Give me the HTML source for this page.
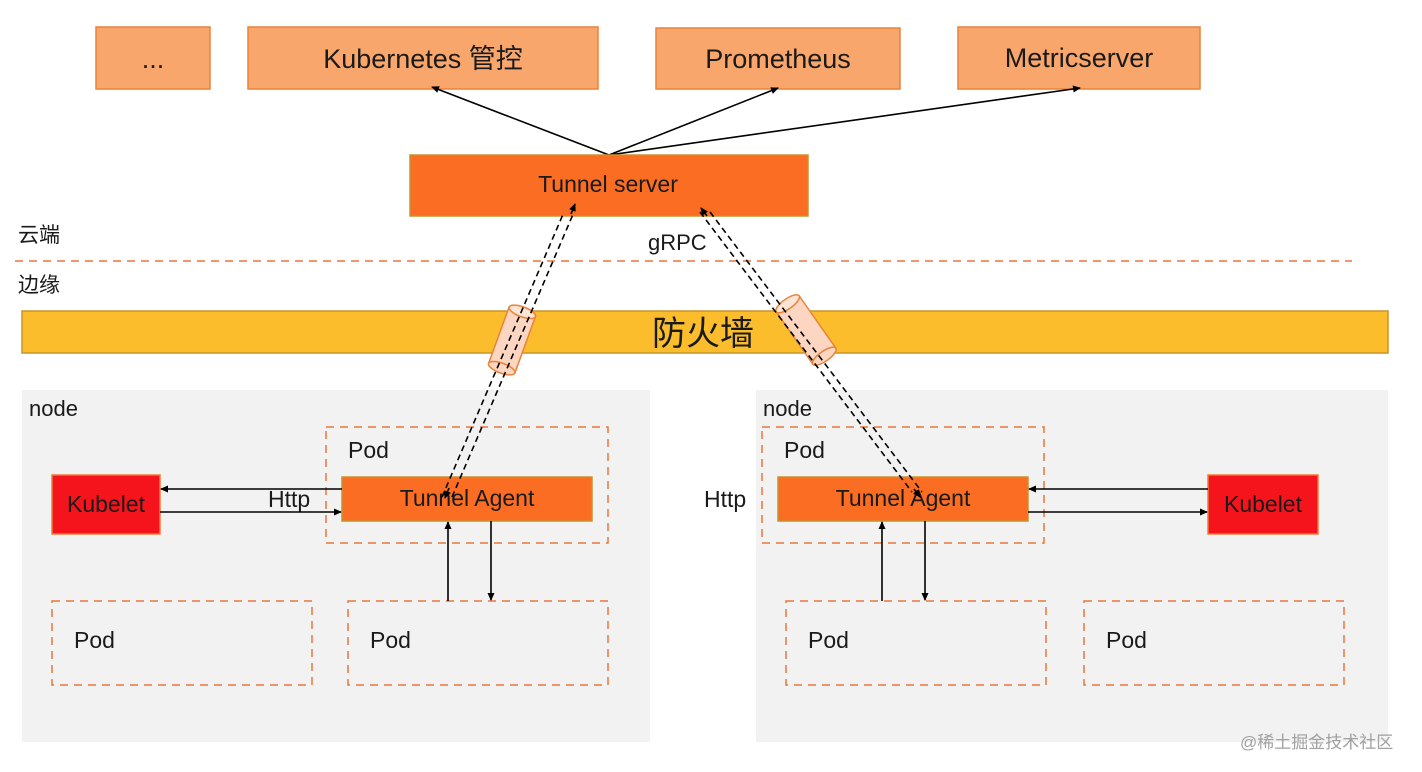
<!DOCTYPE html>
<html><head><meta charset="utf-8"><style>
html,body{margin:0;padding:0;background:#fff;}
svg{display:block;}
text{font-family:"Liberation Sans","Noto Sans CJK SC",sans-serif;fill:#1a1a1a;}
</style></head><body>
<svg width="1422" height="772" viewBox="0 0 1422 772" xmlns="http://www.w3.org/2000/svg">
<defs>
<marker id="ah" markerWidth="8" markerHeight="8" refX="7" refY="4" orient="auto" markerUnits="userSpaceOnUse"><path d="M0,0.5 L8,4 L0,7.5 z" fill="#000"/></marker>
</defs>
<g fill="#f9a66c" stroke="#e8833a" stroke-width="1.5">
<rect x="96" y="27" width="114" height="62"/>
<rect x="248" y="27" width="350" height="62"/>
<rect x="656" y="28" width="244" height="61"/>
<rect x="958" y="27" width="242" height="62"/>
</g>
<g font-size="27" text-anchor="middle">
<text x="153" y="68">...</text>
<text x="423" y="68">Kubernetes 管控</text>
<text x="778" y="68">Prometheus</text>
<text x="1079" y="67">Metricserver</text>
</g>
<g stroke="#000" stroke-width="1.6" marker-end="url(#ah)">
<line x1="609" y1="155" x2="432" y2="87"/>
<line x1="609" y1="155" x2="778" y2="88"/>
<line x1="609" y1="155" x2="1080" y2="88"/>
</g>
<rect x="410" y="155" width="398" height="61" fill="#fa6d22" stroke="#c8922e" stroke-width="1.5"/>
<text x="608" y="192" font-size="23" text-anchor="middle">Tunnel server</text>
<text x="18" y="242" font-size="21">云端</text>
<text x="18" y="292" font-size="21">边缘</text>
<text x="648" y="250" font-size="22">gRPC</text>
<line x1="15" y1="261" x2="1352" y2="261" stroke="#e8773a" stroke-width="1.5" stroke-dasharray="8,6"/>
<rect x="22" y="311" width="1366" height="42" fill="#fbbd2c" stroke="#c9932a" stroke-width="1.5"/>
<text x="703" y="345" font-size="34" text-anchor="middle">防火墙</text>
<rect x="22" y="390" width="628" height="352" fill="#f2f2f2"/>
<rect x="756" y="390" width="632" height="352" fill="#f2f2f2"/>
<text x="29" y="416" font-size="22">node</text>
<text x="763" y="416" font-size="22">node</text>
<g fill="none" stroke="#e8773a" stroke-width="1.5" stroke-dasharray="8,6">
<rect x="326" y="427" width="282" height="116"/>
<rect x="762" y="427" width="282" height="116"/>
<rect x="52" y="601" width="260" height="84"/>
<rect x="348" y="601" width="260" height="84"/>
<rect x="786" y="601" width="260" height="84"/>
<rect x="1084" y="601" width="260" height="84"/>
</g>
<g font-size="23">
<text x="348" y="458">Pod</text>
<text x="784" y="458">Pod</text>
<text x="74" y="648">Pod</text>
<text x="370" y="648">Pod</text>
<text x="808" y="648">Pod</text>
<text x="1106" y="648">Pod</text>
<text x="268" y="507">Http</text>
<text x="704" y="507">Http</text>
</g>
<g fill="#fa6d22" stroke="#c8922e" stroke-width="1.5">
<rect x="342" y="477" width="250" height="44"/>
<rect x="778" y="477" width="250" height="44"/>
</g>
<g fill="#f5141c" stroke="#ef7a3a" stroke-width="1.5">
<rect x="52" y="475" width="108" height="59"/>
<rect x="1208" y="475" width="110" height="59"/>
</g>
<g font-size="23" text-anchor="middle">
<text x="467" y="506">Tunnel Agent</text>
<text x="903" y="506">Tunnel Agent</text>
<text x="106" y="512">Kubelet</text>
<text x="1263" y="512">Kubelet</text>
</g>
<g stroke="#000" stroke-width="1.6" marker-end="url(#ah)">
<line x1="342" y1="489" x2="161" y2="489"/>
<line x1="160" y1="512" x2="341" y2="512"/>
<line x1="448" y1="601" x2="448" y2="522"/>
<line x1="491" y1="521" x2="491" y2="600"/>
<line x1="1208" y1="489" x2="1029" y2="489"/>
<line x1="1028" y1="512" x2="1207" y2="512"/>
<line x1="882" y1="601" x2="882" y2="522"/>
<line x1="925" y1="521" x2="925" y2="600"/>
</g>
<!-- cylinders -->
<g transform="translate(512,340) rotate(20)">
<rect x="-14" y="-30" width="28" height="60" fill="#fcd6c0" stroke="#e8843a" stroke-width="1.5"/>
<ellipse cx="0" cy="30" rx="14" ry="5" fill="#fcd6c0" stroke="#e8843a" stroke-width="1.5"/>
<ellipse cx="0" cy="-30" rx="14" ry="5" fill="#fde4d4" stroke="#e8843a" stroke-width="1.5"/>
</g>
<g transform="translate(806,330) rotate(-35)">
<rect x="-14" y="-32" width="28" height="64" fill="#fcd6c0" stroke="#e8843a" stroke-width="1.5"/>
<ellipse cx="0" cy="32" rx="14" ry="5" fill="#fcd6c0" stroke="#e8843a" stroke-width="1.5"/>
<ellipse cx="0" cy="-32" rx="14" ry="5" fill="#fde4d4" stroke="#e8843a" stroke-width="1.5"/>
</g>
<!-- tunnels -->
<g stroke="#000" stroke-width="1.6" stroke-dasharray="6,4" fill="none">
<line x1="442" y1="497" x2="564" y2="212"/>
<line x1="452" y1="497" x2="574" y2="212"/>
<line x1="700" y1="212" x2="912" y2="492"/>
<line x1="710" y1="212" x2="922" y2="492"/>
</g>
<g stroke="#000" stroke-width="1.6">
<line x1="571" y1="214" x2="575" y2="204" marker-end="url(#ah)"/>
<line x1="449" y1="488" x2="445" y2="498" marker-end="url(#ah)"/>
<line x1="707" y1="216" x2="701" y2="208" marker-end="url(#ah)"/>
<line x1="914" y1="489" x2="920" y2="497" marker-end="url(#ah)"/>
</g>
<text x="1240" y="748" font-size="17" style="fill:#a0a0a0">@稀土掘金技术社区</text>
</svg>
</body></html>
